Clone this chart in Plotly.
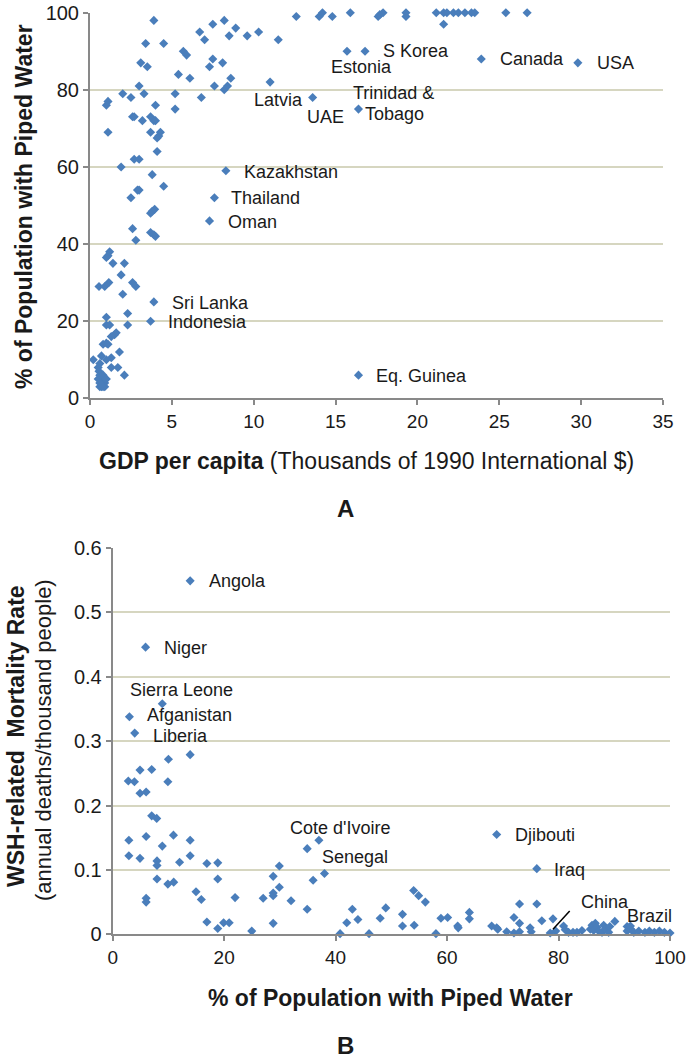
import plotly.graph_objects as go

W, H = 691, 1060

# ---------------- Panel A data: GDP per capita (thousands 1990 Int$) vs % piped water
gdp = [3.9, 7.5, 8.2, 8.9, 6.7, 8.5, 7.0, 9.6, 10.3, 3.4, 4.5, 5.7, 5.9, 3.1, 3.5, 7.5, 8.1, 7.3,
       5.4, 6.1, 8.6, 3.0, 7.6, 8.4, 8.2, 2.0, 2.5, 3.3, 5.2, 6.8, 1.1, 1.0, 4.0, 5.2, 2.6, 2.7,
       3.2, 3.7, 3.9, 4.0, 1.1, 3.7, 4.3, 4.2, 4.1, 4.1, 2.7, 3.0, 1.9, 3.8, 4.5, 2.9, 3.0, 2.5,
       8.3, 7.6, 3.95, 3.8, 3.7, 7.3, 2.6, 2.8, 3.7, 3.9, 4.0, 1.2, 1.1, 1.0, 1.4, 2.1, 1.9, 2.6,
       2.8, 0.55, 0.9, 1.15, 2.0, 3.9, 3.7, 2.3, 1.0, 1.0, 1.2, 2.3, 1.6, 1.5, 1.3, 0.8, 1.0, 1.1,
       1.8, 0.7, 0.2, 1.3, 1.0, 0.6, 0.5, 0.55, 1.3, 1.7, 2.1, 0.6, 0.7, 0.8, 0.6, 0.7, 0.9, 0.8,
       0.5, 0.9, 1.0, 0.6, 0.8,
       12.6, 14.0, 14.2, 14.8, 15.9, 11.5, 11.0, 13.6, 15.7, 16.8, 17.6, 17.7, 17.9, 19.3, 19.3,
       21.15, 21.6, 21.8, 22.2, 22.5, 22.9, 23.3, 23.5, 21.6, 25.4, 26.7, 23.9, 29.8, 16.4, 16.4]
piped_a = [98, 97, 98, 96, 95, 94, 93, 94, 95, 92, 92, 90, 89, 87, 86, 88, 87, 86,
           84, 83, 83, 81, 81, 81, 80, 79, 78, 79, 79, 78, 77, 76, 76, 75, 73, 73,
           72, 73, 72, 72, 69, 69, 69, 68, 67.5, 64, 62, 62, 60, 58, 55, 54, 54, 52,
           59, 52, 49, 48.5, 48, 46, 44, 41, 43, 42.4, 42, 38, 37, 36.5, 35, 35, 32, 30,
           29, 29, 29, 30, 27, 25, 20, 22, 21, 19, 19, 19, 17, 16.5, 16, 14, 14.3, 14,
           12, 11, 10, 10.5, 10, 9, 8, 7, 8, 8, 6, 6, 5, 4, 3, 3, 4, 6,
           5, 3, 5, 4, 3,
           99, 99, 100, 99, 100, 93, 82, 78, 90, 90, 99, 99.5, 100, 100, 99,
           100, 100, 100, 100, 100, 100, 100, 100, 97, 100, 100, 88, 87, 75, 6]

labels_a = ["S Korea", "Estonia", "Canada", "USA", "Trinidad &", "Tobago", "Latvia", "UAE",
            "Kazakhstan", "Thailand", "Oman", "Sri Lanka", "Indonesia", "Eq. Guinea"]
label_a_x = [17.8, 14.6, 24.9, 30.85, 15.95, 16.65, 13.15, 13.16, 9.3, 8.5, 8.3, 4.9, 4.65, 17.35]
label_a_y = [90.1, 86.0, 87.9, 87.0, 79.2, 73.6, 77.4, 72.9, 58.7, 51.9, 45.6, 24.6, 19.7, 5.8]
label_a_anchor = ["left", "left", "left", "left", "left", "left", "right", "left",
                  "left", "left", "left", "left", "left", "left"]

# ---------------- Panel B data: % piped water vs WSH-related mortality
piped_b = [13.9, 5.9, 8.9, 3.0, 3.95, 13.9, 10.0, 4.9, 7.0, 2.8, 3.9, 9.9, 4.9, 6.0, 7.0, 7.9,
           2.9, 6.0, 10.9, 13.9, 8.9, 2.9, 4.9, 7.95, 7.95, 12.0, 13.9, 16.9, 18.85, 7.95, 9.9,
           10.95, 18.85, 6.0, 6.0, 14.95, 15.9, 21.96, 16.9, 18.85, 19.9, 20.9, 24.95, 27.0, 28.8,
           28.8, 28.8, 29.9, 29.9, 28.8, 32.0, 34.9, 34.9, 37.0, 35.96, 38.0,
           40.8, 42.0, 43.0, 44.0, 46.0, 48.0, 49.0, 52.0, 52.0, 54.0, 54.9, 56.1, 54.1, 58.0,
           58.9, 60.1, 61.9, 62.0, 64.0, 64.0, 68.0, 68.9, 69.1, 68.9, 76.1, 72.0, 73.0, 73.0,
           72.0, 73.0, 76.1, 74.9, 75.1, 77.0, 79.0, 78.5, 79.5, 80.9, 81.2, 81.8, 82.6, 83.3,
           84.2, 85.7, 86.0, 86.3, 86.6, 86.9, 87.2, 87.8, 88.1, 88.4, 89.0, 89.2, 90.1, 92.3,
           92.3, 93.0, 93.5, 94.4, 95.5, 96.3, 97.2, 98.1, 99.0, 100.0, 92.9, 70.7]
mortality = [0.549, 0.446, 0.358, 0.338, 0.3125, 0.279, 0.272, 0.255, 0.256, 0.238, 0.237,
             0.237, 0.219, 0.221, 0.184, 0.180, 0.146, 0.152, 0.154, 0.146, 0.137, 0.122,
             0.118, 0.114, 0.107, 0.112, 0.122, 0.110, 0.111, 0.086, 0.078, 0.081, 0.086,
             0.056, 0.050, 0.066, 0.054, 0.057, 0.019, 0.009, 0.018, 0.018, 0.005, 0.056,
             0.090, 0.064, 0.060, 0.106, 0.073, 0.017, 0.052, 0.039, 0.133, 0.146, 0.084,
             0.0945, 0.001, 0.018, 0.039, 0.023, 0.001, 0.025, 0.041, 0.031, 0.013, 0.068,
             0.060, 0.050, 0.014, 0.001, 0.025, 0.026, 0.013, 0.010, 0.034, 0.024, 0.013,
             0.010, 0.008, 0.155, 0.102, 0.026, 0.047, 0.017, 0.002, 0.004, 0.047, 0.010,
             0.004, 0.021, 0.024, 0.002, 0.005, 0.013, 0.007, 0.003, 0.003, 0.003, 0.006,
             0.008, 0.014, 0.006, 0.017, 0.011, 0.005, 0.003, 0.014, 0.008, 0.003, 0.012,
             0.020, 0.005, 0.012, 0.008, 0.003, 0.005, 0.003, 0.005, 0.003, 0.005, 0.003,
             0.002, 0.013, 0.004]

labels_b = ["Angola", "Niger", "Sierra Leone", "Afganistan", "Liberia", "Cote d'Ivoire",
            "Senegal", "Djibouti", "Iraq", "China", "Brazil"]
label_b_x = [16.9, 8.9, 2.8, 5.8, 6.8, 31.5, 37.2, 71.8, 78.8, 83.6, 92.0]
label_b_y = [0.548, 0.445, 0.380, 0.341, 0.308, 0.165, 0.120, 0.154, 0.0997, 0.0506, 0.0284]

# China leader line end-points (data coords)
china_line = (82.0, 0.0362, 79.0, 0.0078)

# ---------------- styling
BLUE = "#4A7EBB"
GRID = "#D6D6C0"
AXIS = "#898989"
FONT = "Liberation Sans, Arial, sans-serif"
TXT = "#1a1a1a"

fig = go.Figure()
fig.add_trace(go.Scatter(x=gdp, y=piped_a, mode="markers", xaxis="x", yaxis="y",
                         marker=dict(symbol="diamond", size=7, color=BLUE),
                         cliponaxis=False, showlegend=False, hoverinfo="x+y"))
fig.add_trace(go.Scatter(x=piped_b, y=mortality, mode="markers", xaxis="x2", yaxis="y2",
                         marker=dict(symbol="diamond", size=7, color=BLUE),
                         cliponaxis=False, showlegend=False, hoverinfo="x+y"))

axis_common = dict(showline=True, linecolor=AXIS, linewidth=2, ticks="outside", ticklen=5,
                   tickcolor=AXIS, tickwidth=1.5, zeroline=False, automargin=False)
xfont = dict(family=FONT, size=19, color=TXT)
yfont = dict(family=FONT, size=20, color=TXT)

fig.update_layout(
    width=W, height=H, margin=dict(l=0, r=0, t=0, b=0),
    paper_bgcolor="white", plot_bgcolor="white",
    xaxis=dict(domain=[90 / W, 663 / W], range=[0, 35], dtick=5, tick0=0, anchor="y",
               showgrid=False, tickfont=xfont, **axis_common),
    yaxis=dict(domain=[1 - 398.3 / H, 1 - 12.7 / H], range=[0, 100], dtick=20, tick0=0,
               anchor="x", showgrid=True, gridcolor=GRID, gridwidth=1.5, tickfont=yfont,
               **axis_common),
    xaxis2=dict(domain=[112.7 / W, 670 / W], range=[0, 100], dtick=20, tick0=0, anchor="y2",
                showgrid=False, tickfont=xfont, **axis_common),
    yaxis2=dict(domain=[1 - 934.3 / H, 1 - 548 / H], range=[0, 0.6], dtick=0.1, tick0=0,
                anchor="x2", showgrid=True, gridcolor=GRID, gridwidth=1.5, tickfont=yfont,
                **axis_common),
)

ann = []
for t, x, y, a in zip(labels_a, label_a_x, label_a_y, label_a_anchor):
    ann.append(dict(text=t, x=x, y=y, xref="x", yref="y", xanchor=a, yanchor="middle",
                    showarrow=False, font=dict(family=FONT, size=18, color=TXT)))
for t, x, y in zip(labels_b, label_b_x, label_b_y):
    ann.append(dict(text=t, x=x, y=y, xref="x2", yref="y2", xanchor="left", yanchor="middle",
                    showarrow=False, font=dict(family=FONT, size=18, color=TXT)))

# axis titles and panel letters
ann.append(dict(text="<b>% of Population with Piped Water</b>", x=24 / W, y=1 - 207 / H,
                xref="paper", yref="paper", textangle=-90, showarrow=False,
                xanchor="center", yanchor="middle", font=dict(family=FONT, size=23, color=TXT)))
ann.append(dict(text="<b>GDP per capita</b> (Thousands of 1990 International $)", x=367 / W,
                y=1 - 461 / H, xref="paper", yref="paper", showarrow=False,
                xanchor="center", yanchor="middle", font=dict(family=FONT, size=23, color=TXT)))
ann.append(dict(text="<b>A</b>", x=345 / W, y=1 - 508 / H, xref="paper", yref="paper",
                showarrow=False, xanchor="center", yanchor="middle",
                font=dict(family=FONT, size=24, color=TXT)))
ann.append(dict(text="<b>WSH-related  Mortality Rate</b>", x=16 / W, y=1 - 736 / H,
                xref="paper", yref="paper", textangle=-90, showarrow=False,
                xanchor="center", yanchor="middle", font=dict(family=FONT, size=23, color=TXT)))
ann.append(dict(text="(annual deaths/thousand people)", x=43 / W, y=1 - 740 / H,
                xref="paper", yref="paper", textangle=-90, showarrow=False,
                xanchor="center", yanchor="middle", font=dict(family=FONT, size=22, color=TXT)))
ann.append(dict(text="<b>% of Population with Piped Water</b>", x=390 / W, y=1 - 998 / H,
                xref="paper", yref="paper", showarrow=False, xanchor="center",
                yanchor="middle", font=dict(family=FONT, size=23, color=TXT)))
ann.append(dict(text="<b>B</b>", x=345 / W, y=1 - 1045 / H, xref="paper", yref="paper",
                showarrow=False, xanchor="center", yanchor="middle",
                font=dict(family=FONT, size=24, color=TXT)))
fig.update_layout(annotations=ann)

fig.add_shape(type="line", xref="x2", yref="y2", x0=china_line[0], y0=china_line[1],
              x1=china_line[2], y1=china_line[3], line=dict(color="black", width=1.5))

fig.write_html("out.html", config={"displayModeBar": False},
               post_script="document.body.style.margin='0px';document.body.style.overflow='hidden';")
